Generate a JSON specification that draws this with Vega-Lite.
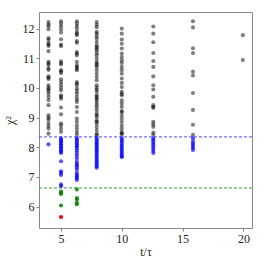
{
"$schema":"https://vega.github.io/schema/vega-lite/v6.json",
"width":213,"height":216,
"autosize":{"type":"none"},
"padding":{"left":39,"top":12,"right":12,"bottom":36},
"background":"white",
"config":{"view":{"stroke":"#888888","strokeWidth":1},
"axis":{"domain":false,"grid":false,"tickColor":"#888888","tickSize":3,"labelFont":"Liberation Serif","labelFontSize":12,"labelColor":"#222222","titleFont":"Liberation Serif","titleFontSize":12,"titleFontWeight":"normal","titleColor":"#222222"}},
"datasets":{
"pts":[
{"x":3.98,"y":12.22,"c":"g"},{"x":3.98,"y":12.14,"c":"g"},{"x":3.98,"y":12.08,"c":"g"},{"x":3.98,"y":11.98,"c":"g"},{"x":3.98,"y":11.68,"c":"g"},{"x":3.98,"y":11.63,"c":"g"},{"x":3.98,"y":11.52,"c":"g"},{"x":3.98,"y":11.46,"c":"g"},{"x":3.98,"y":11.42,"c":"g"},{"x":3.98,"y":11.24,"c":"g"},{"x":3.98,"y":10.88,"c":"g"},{"x":3.98,"y":10.83,"c":"g"},{"x":3.98,"y":10.77,"c":"g"},{"x":3.98,"y":10.66,"c":"g"},{"x":3.98,"y":10.61,"c":"g"},{"x":3.98,"y":10.39,"c":"g"},{"x":3.98,"y":10.35,"c":"g"},{"x":3.98,"y":10.3,"c":"g"},{"x":3.98,"y":10.09,"c":"g"},{"x":3.98,"y":10.01,"c":"g"},{"x":3.98,"y":9.96,"c":"g"},{"x":3.98,"y":9.9,"c":"g"},{"x":3.98,"y":9.81,"c":"g"},{"x":3.98,"y":9.7,"c":"g"},{"x":3.98,"y":9.59,"c":"g"},{"x":3.98,"y":9.42,"c":"g"},{"x":3.98,"y":9.08,"c":"g"},{"x":3.98,"y":9.0,"c":"g"},{"x":3.98,"y":8.94,"c":"g"},{"x":3.98,"y":8.82,"c":"g"},{"x":3.98,"y":8.72,"c":"g"},{"x":3.98,"y":8.63,"c":"g"},{"x":3.98,"y":8.46,"c":"g"},{"x":3.98,"y":8.1,"c":"b"},
{"x":5.01,"y":12.25,"c":"g"},{"x":5.01,"y":12.17,"c":"g"},{"x":5.01,"y":12.08,"c":"g"},{"x":5.01,"y":11.98,"c":"g"},{"x":5.01,"y":11.87,"c":"g"},{"x":5.01,"y":11.64,"c":"g"},{"x":5.01,"y":11.46,"c":"g"},{"x":5.01,"y":11.41,"c":"g"},{"x":5.01,"y":10.9,"c":"g"},{"x":5.01,"y":10.84,"c":"g"},{"x":5.01,"y":10.79,"c":"g"},{"x":5.01,"y":10.6,"c":"g"},{"x":5.01,"y":10.56,"c":"g"},{"x":5.01,"y":10.5,"c":"g"},{"x":5.01,"y":10.29,"c":"g"},{"x":5.01,"y":10.2,"c":"g"},{"x":5.01,"y":10.11,"c":"g"},{"x":5.01,"y":10.01,"c":"g"},{"x":5.01,"y":9.92,"c":"g"},{"x":5.01,"y":9.75,"c":"g"},{"x":5.01,"y":9.7,"c":"g"},{"x":5.01,"y":9.64,"c":"g"},{"x":5.01,"y":9.34,"c":"g"},{"x":5.01,"y":9.11,"c":"g"},{"x":5.01,"y":8.8,"c":"g"},{"x":5.01,"y":8.74,"c":"g"},{"x":5.01,"y":8.63,"c":"g"},{"x":5.01,"y":8.52,"c":"g"},
{"x":5.01,"y":8.3,"c":"b"},{"x":5.01,"y":8.25,"c":"b"},{"x":5.01,"y":8.2,"c":"b"},{"x":5.01,"y":8.15,"c":"b"},{"x":5.01,"y":8.1,"c":"b"},{"x":5.01,"y":8.05,"c":"b"},{"x":5.01,"y":8.0,"c":"b"},{"x":5.01,"y":7.95,"c":"b"},{"x":5.01,"y":7.9,"c":"b"},{"x":5.01,"y":7.85,"c":"b"},{"x":5.01,"y":7.81,"c":"b"},{"x":5.01,"y":7.53,"c":"b"},{"x":5.01,"y":7.19,"c":"b"},{"x":5.01,"y":7.14,"c":"b"},{"x":5.01,"y":7.07,"c":"b"},{"x":5.01,"y":6.75,"c":"b"},{"x":5.01,"y":6.69,"c":"b"},
{"x":5.01,"y":6.51,"c":"gr"},{"x":5.01,"y":6.46,"c":"gr"},{"x":5.01,"y":6.43,"c":"gr"},{"x":5.01,"y":6.04,"c":"gr"},{"x":5.01,"y":5.65,"c":"r"},
{"x":6.31,"y":12.25,"c":"g"},{"x":6.31,"y":12.17,"c":"g"},{"x":6.31,"y":12.09,"c":"g"},{"x":6.31,"y":12.0,"c":"g"},{"x":6.31,"y":11.89,"c":"g"},{"x":6.31,"y":11.83,"c":"g"},{"x":6.31,"y":11.78,"c":"g"},{"x":6.31,"y":11.58,"c":"g"},{"x":6.31,"y":11.52,"c":"g"},{"x":6.31,"y":11.21,"c":"g"},{"x":6.31,"y":11.16,"c":"g"},{"x":6.31,"y":11.1,"c":"g"},{"x":6.31,"y":10.88,"c":"g"},{"x":6.31,"y":10.76,"c":"g"},{"x":6.31,"y":10.71,"c":"g"},{"x":6.31,"y":10.65,"c":"g"},{"x":6.31,"y":10.6,"c":"g"},{"x":6.31,"y":10.2,"c":"g"},{"x":6.31,"y":10.15,"c":"g"},{"x":6.31,"y":10.09,"c":"g"},{"x":6.31,"y":9.98,"c":"g"},{"x":6.31,"y":9.9,"c":"g"},{"x":6.31,"y":9.81,"c":"g"},{"x":6.31,"y":9.7,"c":"g"},{"x":6.31,"y":9.61,"c":"g"},{"x":6.31,"y":9.53,"c":"g"},{"x":6.31,"y":9.36,"c":"g"},{"x":6.31,"y":9.19,"c":"g"},{"x":6.31,"y":8.97,"c":"g"},{"x":6.31,"y":8.86,"c":"g"},{"x":6.31,"y":8.74,"c":"g"},{"x":6.31,"y":8.63,"c":"g"},{"x":6.31,"y":8.52,"c":"g"},{"x":6.31,"y":8.43,"c":"g"},
{"x":6.31,"y":8.31,"c":"b"},{"x":6.31,"y":8.26,"c":"b"},{"x":6.31,"y":8.2,"c":"b"},{"x":6.31,"y":8.14,"c":"b"},{"x":6.31,"y":8.08,"c":"b"},{"x":6.31,"y":8.03,"c":"b"},{"x":6.31,"y":7.97,"c":"b"},{"x":6.31,"y":7.89,"c":"b"},{"x":6.31,"y":7.81,"c":"b"},{"x":6.31,"y":7.72,"c":"b"},{"x":6.31,"y":7.63,"c":"b"},{"x":6.31,"y":7.52,"c":"b"},{"x":6.31,"y":7.44,"c":"b"},{"x":6.31,"y":7.39,"c":"b"},{"x":6.31,"y":7.33,"c":"b"},{"x":6.31,"y":7.25,"c":"b"},{"x":6.31,"y":7.14,"c":"b"},{"x":6.31,"y":7.07,"c":"b"},{"x":6.31,"y":7.02,"c":"b"},{"x":6.31,"y":6.96,"c":"b"},{"x":6.31,"y":6.9,"c":"b"},
{"x":6.31,"y":6.58,"c":"gr"},{"x":6.31,"y":6.29,"c":"gr"},{"x":6.31,"y":6.24,"c":"gr"},{"x":6.31,"y":6.13,"c":"gr"},{"x":6.31,"y":6.08,"c":"gr"},
{"x":7.94,"y":12.22,"c":"g"},{"x":7.94,"y":12.13,"c":"g"},{"x":7.94,"y":12.05,"c":"g"},{"x":7.94,"y":11.89,"c":"g"},{"x":7.94,"y":11.83,"c":"g"},{"x":7.94,"y":11.74,"c":"g"},{"x":7.94,"y":11.66,"c":"g"},{"x":7.94,"y":11.55,"c":"g"},{"x":7.94,"y":11.44,"c":"g"},{"x":7.94,"y":11.38,"c":"g"},{"x":7.94,"y":11.33,"c":"g"},{"x":7.94,"y":11.27,"c":"g"},{"x":7.94,"y":11.18,"c":"g"},{"x":7.94,"y":11.1,"c":"g"},{"x":7.94,"y":10.99,"c":"g"},{"x":7.94,"y":10.88,"c":"g"},{"x":7.94,"y":10.82,"c":"g"},{"x":7.94,"y":10.77,"c":"g"},{"x":7.94,"y":10.71,"c":"g"},{"x":7.94,"y":10.6,"c":"g"},{"x":7.94,"y":10.48,"c":"g"},{"x":7.94,"y":10.37,"c":"g"},{"x":7.94,"y":10.26,"c":"g"},{"x":7.94,"y":10.09,"c":"g"},{"x":7.94,"y":10.01,"c":"g"},{"x":7.94,"y":9.95,"c":"g"},{"x":7.94,"y":9.87,"c":"g"},{"x":7.94,"y":9.75,"c":"g"},{"x":7.94,"y":9.7,"c":"g"},{"x":7.94,"y":9.64,"c":"g"},{"x":7.94,"y":9.59,"c":"g"},{"x":7.94,"y":9.5,"c":"g"},{"x":7.94,"y":9.42,"c":"g"},{"x":7.94,"y":9.34,"c":"g"},{"x":7.94,"y":9.25,"c":"g"},{"x":7.94,"y":9.14,"c":"g"},{"x":7.94,"y":9.08,"c":"g"},{"x":7.94,"y":9.02,"c":"g"},{"x":7.94,"y":8.91,"c":"g"},{"x":7.94,"y":8.86,"c":"g"},{"x":7.94,"y":8.8,"c":"g"},{"x":7.94,"y":8.69,"c":"g"},{"x":7.94,"y":8.58,"c":"g"},{"x":7.94,"y":8.46,"c":"g"},{"x":7.94,"y":8.41,"c":"g"},
{"x":7.94,"y":8.31,"c":"b"},{"x":7.94,"y":8.26,"c":"b"},{"x":7.94,"y":8.2,"c":"b"},{"x":7.94,"y":8.14,"c":"b"},{"x":7.94,"y":8.09,"c":"b"},{"x":7.94,"y":8.03,"c":"b"},{"x":7.94,"y":7.97,"c":"b"},{"x":7.94,"y":7.92,"c":"b"},{"x":7.94,"y":7.86,"c":"b"},{"x":7.94,"y":7.81,"c":"b"},{"x":7.94,"y":7.75,"c":"b"},{"x":7.94,"y":7.7,"c":"b"},{"x":7.94,"y":7.64,"c":"b"},{"x":7.94,"y":7.58,"c":"b"},{"x":7.94,"y":7.52,"c":"b"},{"x":7.94,"y":7.47,"c":"b"},{"x":7.94,"y":7.41,"c":"b"},{"x":7.94,"y":7.36,"c":"b"},{"x":7.94,"y":7.31,"c":"b"},
{"x":10,"y":12.0,"c":"g"},{"x":10,"y":11.83,"c":"g"},{"x":10,"y":11.63,"c":"g"},{"x":10,"y":11.49,"c":"g"},{"x":10,"y":11.33,"c":"g"},{"x":10,"y":11.16,"c":"g"},{"x":10,"y":11.04,"c":"g"},{"x":10,"y":10.93,"c":"g"},{"x":10,"y":10.84,"c":"g"},{"x":10,"y":10.71,"c":"g"},{"x":10,"y":10.6,"c":"g"},{"x":10,"y":10.48,"c":"g"},{"x":10,"y":10.32,"c":"g"},{"x":10,"y":10.17,"c":"g"},{"x":10,"y":10.03,"c":"g"},{"x":10,"y":9.87,"c":"g"},{"x":10,"y":9.8,"c":"g"},{"x":10,"y":9.75,"c":"g"},{"x":10,"y":9.58,"c":"g"},{"x":10,"y":9.47,"c":"g"},{"x":10,"y":9.36,"c":"g"},{"x":10,"y":9.22,"c":"g"},{"x":10,"y":9.19,"c":"g"},{"x":10,"y":9.08,"c":"g"},{"x":10,"y":8.97,"c":"g"},{"x":10,"y":8.86,"c":"g"},{"x":10,"y":8.74,"c":"g"},{"x":10,"y":8.63,"c":"g"},{"x":10,"y":8.52,"c":"g"},{"x":10,"y":8.47,"c":"g"},{"x":10,"y":8.44,"c":"g"},
{"x":10,"y":8.31,"c":"b"},{"x":10,"y":8.25,"c":"b"},{"x":10,"y":8.19,"c":"b"},{"x":10,"y":8.12,"c":"b"},{"x":10,"y":8.06,"c":"b"},{"x":10,"y":8.0,"c":"b"},{"x":10,"y":7.94,"c":"b"},{"x":10,"y":7.88,"c":"b"},{"x":10,"y":7.82,"c":"b"},{"x":10,"y":7.76,"c":"b"},{"x":10,"y":7.7,"c":"b"},{"x":10,"y":7.67,"c":"b"},
{"x":12.59,"y":12.07,"c":"g"},{"x":12.59,"y":11.83,"c":"g"},{"x":12.59,"y":11.54,"c":"g"},{"x":12.59,"y":11.18,"c":"g"},{"x":12.59,"y":10.91,"c":"g"},{"x":12.59,"y":10.71,"c":"g"},{"x":12.59,"y":10.39,"c":"g"},{"x":12.59,"y":10.09,"c":"g"},{"x":12.59,"y":9.95,"c":"g"},{"x":12.59,"y":9.7,"c":"g"},{"x":12.59,"y":9.42,"c":"g"},{"x":12.59,"y":9.36,"c":"g"},{"x":12.59,"y":9.33,"c":"g"},{"x":12.59,"y":8.86,"c":"g"},{"x":12.59,"y":8.78,"c":"g"},{"x":12.59,"y":8.69,"c":"g"},{"x":12.59,"y":8.5,"c":"g"},{"x":12.59,"y":8.42,"c":"g"},
{"x":12.59,"y":8.3,"c":"b"},{"x":12.59,"y":8.24,"c":"b"},{"x":12.59,"y":8.17,"c":"b"},{"x":12.59,"y":8.1,"c":"b"},{"x":12.59,"y":8.03,"c":"b"},{"x":12.59,"y":7.96,"c":"b"},{"x":12.59,"y":7.88,"c":"b"},{"x":12.59,"y":7.81,"c":"b"},
{"x":15.85,"y":12.25,"c":"g"},{"x":15.85,"y":12.04,"c":"g"},{"x":15.85,"y":11.34,"c":"g"},{"x":15.85,"y":11.18,"c":"g"},{"x":15.85,"y":10.55,"c":"g"},{"x":15.85,"y":10.42,"c":"g"},{"x":15.85,"y":9.83,"c":"g"},{"x":15.85,"y":9.26,"c":"g"},{"x":15.85,"y":8.76,"c":"g"},{"x":15.85,"y":8.42,"c":"g"},
{"x":15.85,"y":8.3,"c":"b"},{"x":15.85,"y":8.19,"c":"b"},{"x":15.85,"y":8.12,"c":"b"},{"x":15.85,"y":8.05,"c":"b"},{"x":15.85,"y":7.98,"c":"b"},{"x":15.85,"y":7.91,"c":"b"},
{"x":19.95,"y":11.78,"c":"g"},{"x":19.95,"y":10.94,"c":"g"}
],
"lines":[{"y":8.35,"c":"b"},{"y":6.63,"c":"gr"}]
},
"layer":[
{"data":{"name":"lines"},"mark":{"type":"rule","strokeDash":[3,2],"strokeWidth":1},
 "encoding":{"y":{"field":"y","type":"quantitative","title":"χ²","scale":{"domain":[5.28,12.56],"nice":false,"zero":false},"axis":{"values":[6,7,8,9,10,11,12],"titlePadding":6}},
 "color":{"field":"c","type":"nominal","scale":{"domain":["b","gr"],"range":["#4a4aff","#3a9a3a"]},"legend":null}}},
{"data":{"name":"pts"},"mark":{"type":"circle","size":17},
 "encoding":{
 "x":{"field":"x","type":"quantitative","title":"t/τ","scale":{"domain":[3.2,20.7],"nice":false,"zero":false},"axis":{"values":[5,10,15,20],"titlePadding":2}},
 "y":{"field":"y","type":"quantitative","title":"χ²","scale":{"domain":[5.28,12.56],"nice":false,"zero":false},"axis":{"values":[6,7,8,9,10,11,12],"titlePadding":6}},
 "color":{"field":"c","type":"nominal","scale":{"domain":["g","b","gr","r"],"range":["#000000","#0000ff","#008000","#ff0000"]},"legend":null},
 "opacity":{"field":"c","type":"nominal","scale":{"domain":["g","b","gr","r"],"range":[0.5,1,1,1]},"legend":null}}}
],
"resolve":{"scale":{"color":"independent"}}
}
